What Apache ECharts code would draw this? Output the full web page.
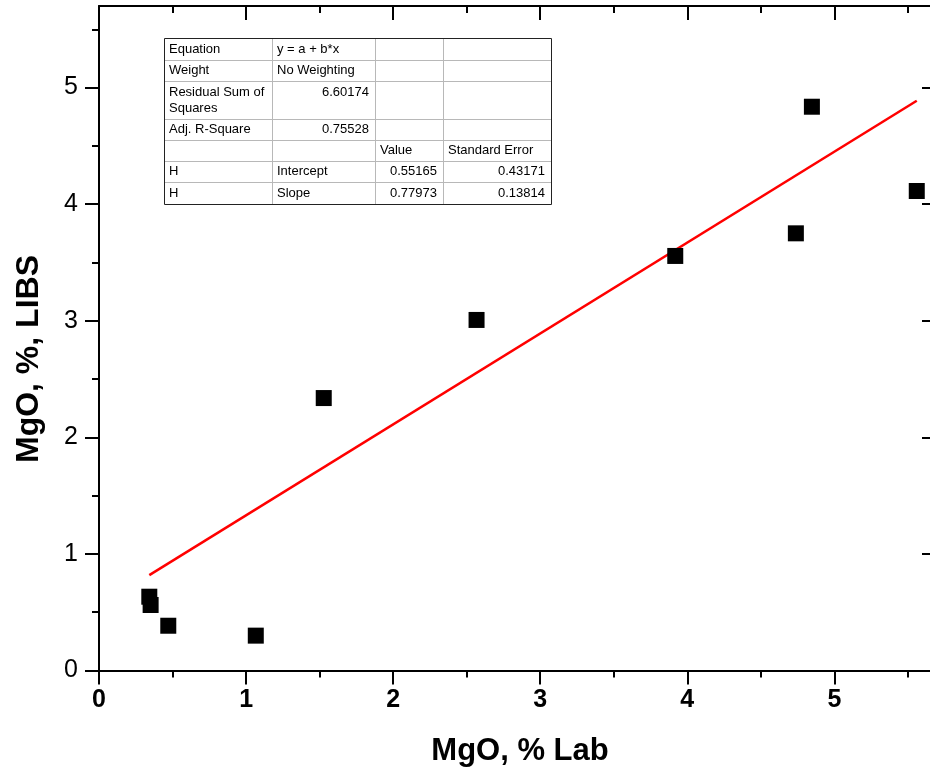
<!DOCTYPE html>
<html>
<head>
<meta charset="utf-8">
<title>MgO: LIBS vs Lab</title>
<script src="https://cdn.jsdelivr.net/npm/echarts@6/dist/echarts.min.js"></script>
<style>
  html, body { margin: 0; padding: 0; background: #ffffff; }
  #chart { width: 930px; height: 774px; }
</style>
</head>
<body>
<div id="chart"></div>
<script>
// Measured samples: MgO by laboratory analysis vs. MgO from LIBS (both in %)
const labMgO  = [0.342, 0.351, 0.471, 1.066, 1.528, 2.567, 3.918, 4.738, 4.847, 5.560];
const libsMgO = [0.633, 0.562, 0.384, 0.299, 2.337, 3.007, 3.556, 3.750, 4.836, 4.113];

// Linear fit y = a + b*x (values as reported in the fit table)
const fitIntercept = 0.55165;
const fitSlope = 0.77973;

// Tick positions
const xMajorTicks = [0, 1, 2, 3, 4, 5];
const xMinorTicks = [0.5, 1.5, 2.5, 3.5, 4.5, 5.5];
const yMajorTicks = [0, 1, 2, 3, 4, 5];
const yMinorTicks = [0.5, 1.5, 2.5, 3.5, 4.5, 5.5];

// Fit report table rows
const tableRows = [
  ['Equation', 'y = a + b*x', '', ''],
  ['Weight', 'No Weighting', '', ''],
  ['Residual Sum of\nSquares', '6.60174', '', ''],
  ['Adj. R-Square', '0.75528', '', ''],
  ['', '', 'Value', 'Standard Error'],
  ['H', 'Intercept', '0.55165', '0.43171'],
  ['H', 'Slope', '0.77973', '0.13814']
];

const FONT = '"Liberation Sans", Arial, Helvetica, sans-serif';

const chart = echarts.init(document.getElementById('chart'), null, { renderer: 'canvas' });

const scatterData = labMgO.map((x, i) => [x, libsMgO[i]]);
const xLo = Math.min(...labMgO);
const xHi = Math.max(...labMgO);
const fitData = [[xLo, fitIntercept + fitSlope * xLo], [xHi, fitIntercept + fitSlope * xHi]];

function makeAxis(kind, position, ticks, opts) {
  const axis = {
    type: 'value',
    position: position,
    offset: opts.offset || 0,
    min: 0,
    max: kind === 'x' ? 5.65 : 5.7,
    axisLine: { show: !!opts.line, onZero: false, lineStyle: { color: '#000', width: 2 } },
    axisTick: {
      show: true,
      inside: !!opts.inside,
      length: opts.len,
      customValues: ticks,
      lineStyle: { color: '#000', width: 2 }
    },
    axisLabel: { show: false },
    splitLine: { show: false }
  };
  if (opts.labels) {
    axis.axisLabel = {
      show: true,
      customValues: ticks,
      color: '#000',
      fontFamily: FONT,
      fontSize: 25,
      fontWeight: opts.bold ? 'bold' : 'normal',
      margin: opts.margin
    };
  }
  return axis;
}

// Fit report table drawn as graphic elements
const colX = [164, 272, 375, 443, 551];
const rowY = [38, 60, 81, 119, 140, 161, 182, 204];
const tableEls = [];
tableEls.push({
  type: 'rect',
  shape: { x: colX[0], y: rowY[0], width: colX[4] - colX[0], height: rowY[7] - rowY[0] },
  style: { fill: '#fff', stroke: 'none' }
});
for (let r = 1; r < rowY.length - 1; r++) {
  tableEls.push({ type: 'line', shape: { x1: colX[0], y1: rowY[r] + 0.5, x2: colX[4], y2: rowY[r] + 0.5 },
    style: { stroke: '#b8b8b8', lineWidth: 1 } });
}
for (let c = 1; c < colX.length - 1; c++) {
  tableEls.push({ type: 'line', shape: { x1: colX[c] + 0.5, y1: rowY[0], x2: colX[c] + 0.5, y2: rowY[7] },
    style: { stroke: '#b8b8b8', lineWidth: 1 } });
}
tableEls.push({
  type: 'rect',
  shape: { x: colX[0] + 0.5, y: rowY[0] + 0.5, width: colX[4] - colX[0], height: rowY[7] - rowY[0] },
  style: { fill: 'none', stroke: '#222', lineWidth: 1 }
});
tableRows.forEach((row, r) => {
  row.forEach((txt, c) => {
    if (!txt) return;
    const numeric = /^[0-9.]+$/.test(txt);
    const tall = r === 2;
    tableEls.push({
      type: 'text',
      style: {
        text: txt,
        x: numeric ? colX[c + 1] - 6 : colX[c] + 5,
        y: tall ? rowY[r] + 3 : (rowY[r] + rowY[r + 1]) / 2,
        align: numeric ? 'right' : 'left',
        verticalAlign: tall ? 'top' : 'middle',
        font: '13px ' + FONT,
        lineHeight: 16,
        fill: '#000'
      }
    });
  });
});

const option = {
  backgroundColor: '#ffffff',
  animation: false,
  grid: { left: 99, top: 6, width: 832, height: 664.5, containLabel: false, show: false },
  xAxis: [
    makeAxis('x', 'bottom', xMajorTicks, { line: true, len: 14, labels: true, bold: true, margin: 17 }),
    makeAxis('x', 'bottom', xMinorTicks, { len: 7 }),
    makeAxis('x', 'top', xMajorTicks, { line: true, len: 14, inside: true }),
    makeAxis('x', 'top', xMinorTicks, { len: 7, inside: true })
  ],
  yAxis: [
    makeAxis('y', 'left', yMajorTicks, { line: true, len: 14, labels: true, bold: false, margin: 21 }),
    makeAxis('y', 'left', yMinorTicks, { len: 7 }),
    // right frame edge sits just past the visible area; only the long ticks reach in
    makeAxis('y', 'right', yMajorTicks, { line: true, len: 15, inside: true, offset: 7 })
  ],
  series: [
    {
      name: 'LIBS vs Lab',
      type: 'scatter',
      xAxisIndex: 0,
      yAxisIndex: 0,
      symbol: 'rect',
      symbolSize: 16,
      itemStyle: { color: '#000', opacity: 1 },
      data: scatterData,
      z: 3
    },
    {
      name: 'Linear fit',
      type: 'line',
      xAxisIndex: 0,
      yAxisIndex: 0,
      showSymbol: false,
      symbol: 'none',
      lineStyle: { color: '#ff0000', width: 2.5 },
      data: fitData,
      z: 2
    }
  ],
  graphic: [
    { type: 'group', z: 10, children: tableEls },
    {
      type: 'text',
      x: 520, y: 751,
      style: { text: 'MgO, % Lab', font: 'bold 31px ' + FONT, fill: '#000', align: 'center', verticalAlign: 'middle' }
    },
    {
      type: 'text',
      x: 29, y: 359,
      rotation: Math.PI / 2,
      style: { text: 'MgO, %, LIBS', font: 'bold 32px ' + FONT, fill: '#000', align: 'center', verticalAlign: 'middle' }
    }
  ]
};

chart.setOption(option);
</script>
</body>
</html>
